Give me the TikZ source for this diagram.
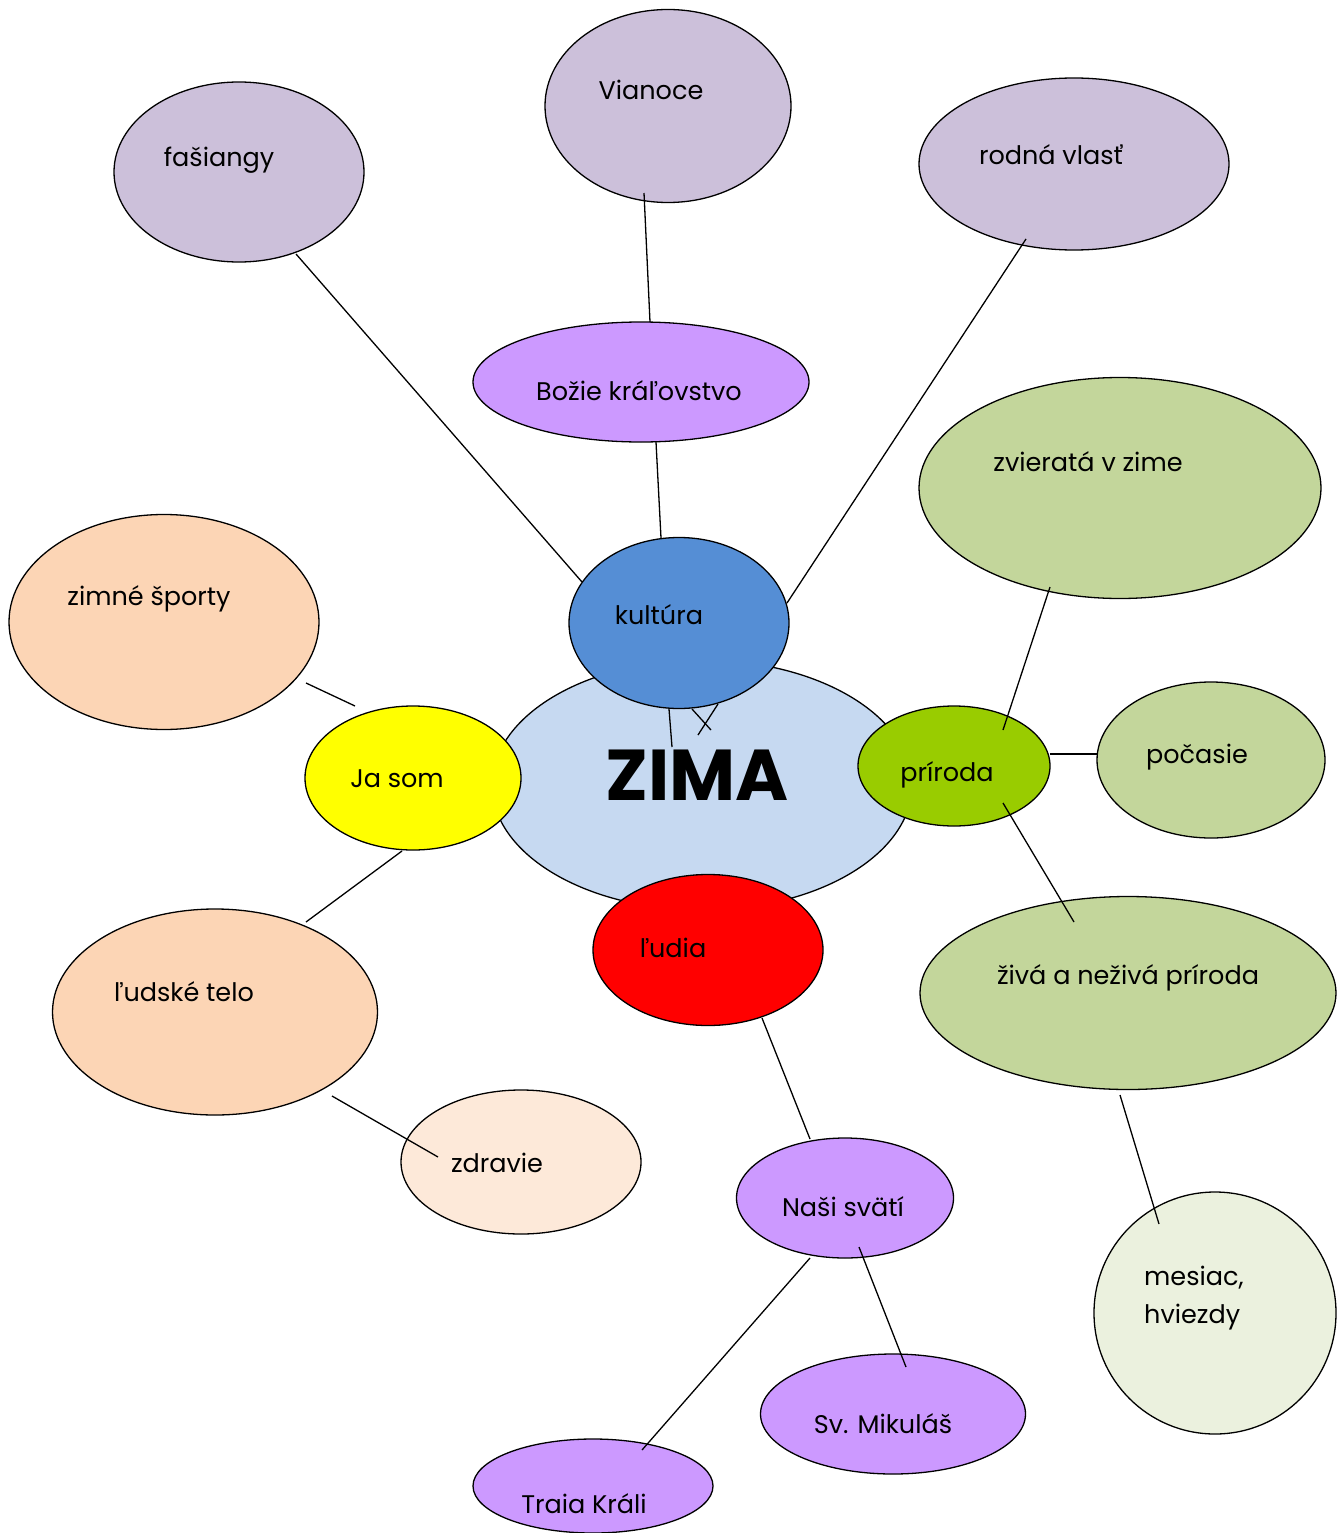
\documentclass[tikz,border=0pt]{standalone}
\usetikzlibrary{shapes.geometric}
\usepackage{fontspec}
\setmainfont{Poppins}
\definecolor{lilac}{HTML}{CCC0DA}
\definecolor{purp}{HTML}{CC99FF}
\definecolor{sage}{HTML}{C3D69B}
\definecolor{lime}{HTML}{99CC00}
\definecolor{peach}{HTML}{FCD5B5}
\definecolor{lpeach}{HTML}{FDE9D9}
\definecolor{lgreen}{HTML}{EBF1DE}
\definecolor{kblue}{HTML}{558ED5}
\definecolor{lblue}{HTML}{C6D9F1}
\definecolor{yel}{RGB}{255,255,0}
\definecolor{rd}{RGB}{255,0,0}
\begin{document}
\begin{tikzpicture}[x=1pt,y=-1pt,
  bub/.style={ellipse,draw=black,line width=1.3pt,inner sep=0pt},
  lbl/.style={font=\fontsize{25.5}{30}\selectfont,inner sep=0pt,anchor=center},
  conn/.style={line width=1.3pt}]
\useasboundingbox (0,0) rectangle (1337,1533);
% ellipses
\node[bub,fill=lilac,minimum width=250,minimum height=180] (fas) at (239,172) {};
\node[bub,fill=lilac,minimum width=246,minimum height=193] (via) at (668,106) {};
\node[bub,fill=lilac,minimum width=310,minimum height=172] (rod) at (1074,164) {};
\node[bub,fill=purp,minimum width=336,minimum height=120] (boz) at (641,382) {};
\node[bub,fill=sage,minimum width=402,minimum height=221] (zvi) at (1120,488) {};
\node[bub,fill=peach,minimum width=310,minimum height=215] (zsp) at (164,622) {};
\node[bub,fill=lblue,minimum width=420,minimum height=250] (zima) at (702,785) {};
\node[bub,fill=kblue,minimum width=220,minimum height=171] (kul) at (679,623) {};
\node[bub,fill=yel,minimum width=216,minimum height=144] (jas) at (413,778) {};
\node[bub,fill=lime,minimum width=192,minimum height=120] (pri) at (954,766) {};
\node[bub,fill=sage,minimum width=228,minimum height=156] (poc) at (1211,760) {};
\node[bub,fill=rd,minimum width=230,minimum height=151] (lud) at (708,950) {};
\node[bub,fill=sage,minimum width=416,minimum height=193] (ziv) at (1128,993) {};
\node[bub,fill=peach,minimum width=325,minimum height=206] (tel) at (215,1012) {};
\node[bub,fill=lpeach,minimum width=240,minimum height=144] (zdr) at (521,1162) {};
\node[bub,fill=purp,minimum width=217,minimum height=120] (nas) at (845,1198) {};
\node[bub,fill=lgreen,minimum width=242,minimum height=242] (mes) at (1215,1313) {};
\node[bub,fill=purp,minimum width=265,minimum height=120] (mik) at (893,1414) {};
\node[bub,fill=purp,minimum width=240,minimum height=94] (tra) at (593,1486) {};
% labels
\node[lbl] (fas-t) at (219,160) {fašiangy};
\node[lbl] (via-t) at (651,90) {Vianoce};
\node[lbl] (rod-t) at (1051,155) {rodná vlasť};
\node[lbl] (boz-t) at (639,391) {Božie kráľovstvo};
\node[lbl] (zvi-t) at (1088,462) {zvieratá v zime};
\node[lbl] (zsp-t) at (149,599) {zimné športy};
\node[lbl] (kul-t) at (659,615) {kultúra};
\node[font=\fontsize{72}{84}\selectfont\bfseries,inner sep=0pt] (zima-t) at (697,775) {ZIMA};
\node[lbl] (jas-t) at (397,779) {Ja som};
\node[lbl] (pri-t) at (947,775) {príroda};
\node[lbl] (poc-t) at (1197,757) {počasie};
\node[lbl] (lud-t) at (673,948) {ľudia};
\node[lbl] (ziv-t) at (1128,978) {živá a neživá príroda};
\node[lbl] (tel-t) at (184,992) {ľudské telo};
\node[lbl] (zdr-t) at (497,1163) {zdravie};
\node[lbl] (nas-t) at (843,1207) {Naši svätí};
\node[lbl,anchor=north west,align=left,font=\fontsize{25.5}{38}\selectfont] (mes-t) at (1144,1266) {mesiac,\\hviezdy};
\node[lbl] (mik-t) at (883,1424) {Sv. Mikuláš};
\node[lbl] (tra-t) at (584,1504) {Traia Králi};
% connector ends
\coordinate (a1) at (296,254); \coordinate (a2) at (582,582);
\coordinate (b1) at (644,193); \coordinate (b2) at (650,322);
\coordinate (c1) at (656,442); \coordinate (c2) at (661,538);
\coordinate (d1) at (1026,239); \coordinate (d2) at (787,603);
\coordinate (e1) at (306,683); \coordinate (e2) at (355,706);
\coordinate (f1) at (402,851); \coordinate (f2) at (306,922);
\coordinate (g1) at (332,1096); \coordinate (g2) at (438,1157);
\coordinate (h1) at (762,1018); \coordinate (h2) at (810,1139);
\coordinate (i1) at (810,1258); \coordinate (i2) at (642,1450);
\coordinate (j1) at (859,1247); \coordinate (j2) at (906,1367);
\coordinate (k1) at (1050,587); \coordinate (k2) at (1003,730);
\coordinate (l1) at (1050,754); \coordinate (l2) at (1098,754);
\coordinate (m1) at (1003,803); \coordinate (m2) at (1074,922);
\coordinate (n1) at (1120,1095); \coordinate (n2) at (1159,1224);
\coordinate (o1) at (669,709); \coordinate (o2) at (672,747);
\coordinate (p1) at (692,709); \coordinate (p2) at (711,730);
\coordinate (q1) at (718,704); \coordinate (q2) at (698,735);
% connectors
\draw[conn] (a1) -- (a2);
\draw[conn] (b1) -- (b2);
\draw[conn] (c1) -- (c2);
\draw[conn] (d1) -- (d2);
\draw[conn] (e1) -- (e2);
\draw[conn] (f1) -- (f2);
\draw[conn] (g1) -- (g2);
\draw[conn] (h1) -- (h2);
\draw[conn] (i1) -- (i2);
\draw[conn] (j1) -- (j2);
\draw[conn] (k1) -- (k2);
\draw[conn] (l1) -- (l2);
\draw[conn] (m1) -- (m2);
\draw[conn] (n1) -- (n2);
\draw[conn] (o1) -- (o2);
\draw[conn] (p1) -- (p2);
\draw[conn] (q1) -- (q2);
\end{tikzpicture}
\end{document}
